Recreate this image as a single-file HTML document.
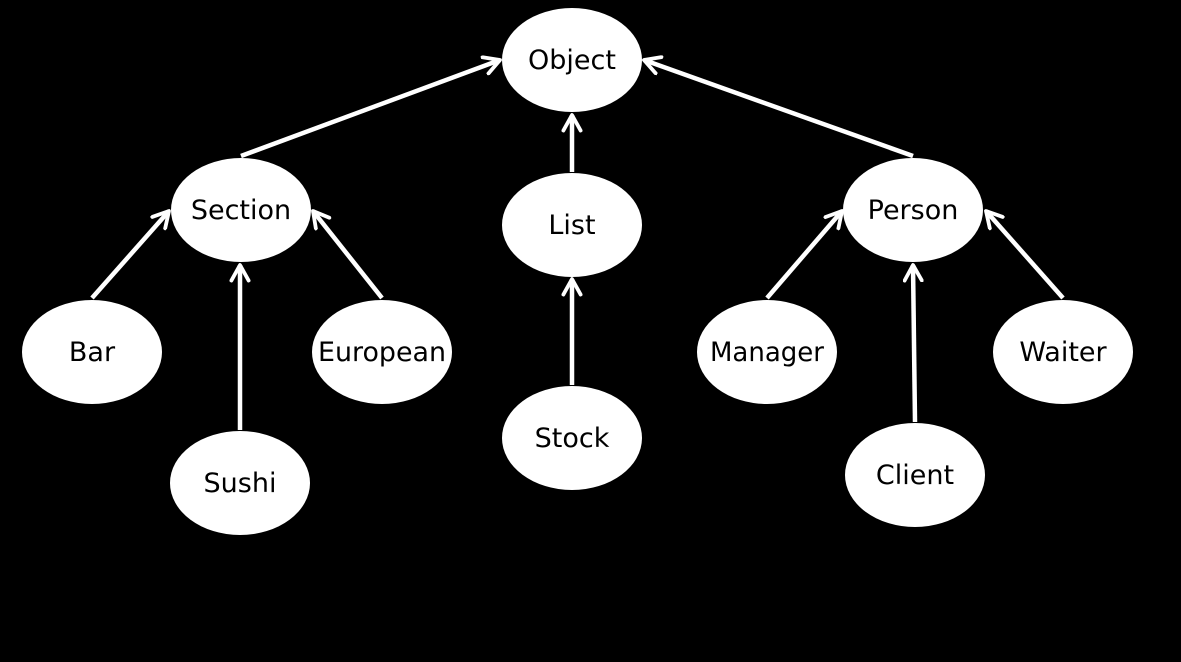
<!DOCTYPE html>
<html><head><meta charset="utf-8"><style>
html,body{margin:0;padding:0;background:#000;width:1181px;height:662px;overflow:hidden}
text{font-family:"DejaVu Sans","Liberation Sans",sans-serif;font-size:27px;fill:#000}
</style></head><body>
<svg width="1181" height="662" viewBox="0 0 1181 662" xmlns="http://www.w3.org/2000/svg">
<defs>
<marker id="a" viewBox="0 0 12 12" refX="10" refY="6" markerWidth="4.6" markerHeight="4.6" markerUnits="strokeWidth" orient="auto">
<path d="M1,1 L10,6 L1,11" fill="none" stroke="#fff" stroke-width="2.2" stroke-linecap="round" stroke-linejoin="round"/>
</marker>
</defs>
<g stroke="#fff" stroke-width="4.5" fill="none" marker-end="url(#a)">
<line x1="241" y1="156" x2="500" y2="60"/>
<line x1="572" y1="172" x2="572" y2="115"/>
<line x1="913" y1="156" x2="644" y2="60"/>
<line x1="92" y1="298" x2="169" y2="211"/>
<line x1="240" y1="430" x2="240" y2="265"/>
<line x1="382" y1="298" x2="313" y2="211"/>
<line x1="572" y1="385" x2="572" y2="279"/>
<line x1="767" y1="298" x2="842" y2="211"/>
<line x1="915" y1="422" x2="913" y2="265"/>
<line x1="1063" y1="298" x2="986" y2="211"/>
</g>
<g fill="#fff">
<ellipse cx="572" cy="60" rx="70" ry="52"/>
<ellipse cx="241" cy="210" rx="70" ry="52"/>
<ellipse cx="572" cy="225" rx="70" ry="52"/>
<ellipse cx="913" cy="210" rx="70" ry="52"/>
<ellipse cx="92" cy="352" rx="70" ry="52"/>
<ellipse cx="382" cy="352" rx="70" ry="52"/>
<ellipse cx="240" cy="483" rx="70" ry="52"/>
<ellipse cx="572" cy="438" rx="70" ry="52"/>
<ellipse cx="767" cy="352" rx="70" ry="52"/>
<ellipse cx="1063" cy="352" rx="70" ry="52"/>
<ellipse cx="915" cy="475" rx="70" ry="52"/>
</g>
<g text-anchor="middle">
<text x="572" y="69">Object</text>
<text x="241" y="219">Section</text>
<text x="572" y="234">List</text>
<text x="913" y="219">Person</text>
<text x="92" y="361">Bar</text>
<text x="382" y="361" textLength="128" lengthAdjust="spacingAndGlyphs">European</text>
<text x="240" y="492">Sushi</text>
<text x="572" y="447">Stock</text>
<text x="767" y="361" textLength="114" lengthAdjust="spacingAndGlyphs">Manager</text>
<text x="1063" y="361">Waiter</text>
<text x="915" y="484">Client</text>
</g>
</svg>
</body></html>
